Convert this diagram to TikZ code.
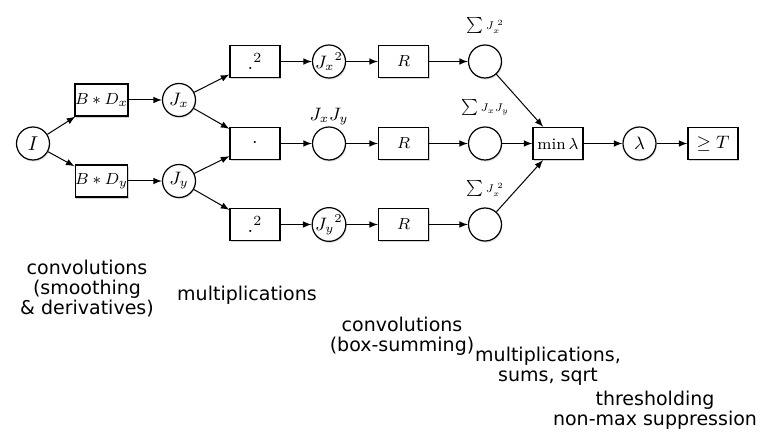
\documentclass[tikz,border=0pt]{standalone}
\usepackage{amsmath}
\usepackage{amssymb}
\usepackage{fontspec}
\newfontfamily\notefont{DejaVu Sans}
\usepackage{tikz}
\usetikzlibrary{arrows}
\usetikzlibrary{positioning}
\usetikzlibrary{shadows}
\tikzstyle{arrow} = [line width=0.5pt,-latex]
\tikzstyle{opbox} = [draw, line width=0.6pt, fill=white, minimum width=25pt, minimum height=16pt, inner sep=0pt, drop shadow={shadow xshift=0.5pt, shadow yshift=-1pt, opacity=0.35}]
\tikzstyle{val} = [draw, circle, line width=0.6pt, fill=white, minimum size=16.5pt, inner sep=0pt, drop shadow={shadow xshift=0.4pt, shadow yshift=-0.8pt, opacity=0.25}]
\tikzstyle{sumlabel} = [inner sep=0pt, label distance=5pt]
\newcommand{\sumof}[1]{\scalebox{0.8}{$\sum{\scriptstyle #1}$}}
\tikzstyle{note} = [align=center, inner sep=0pt, font=\notefont\fontsize{9.5}{10}\selectfont]

\begin{document}
\begin{tikzpicture}[x=0.5pt, y=-0.5pt, on grid]
			\useasboundingbox (0,0) rectangle (769,432);
			
				% Input image
				\node[val] (I) at (33,143.5) {$I$};
				
				% Smoothed derivatives
				\node[opbox, font=\footnotesize, above right = 21.75pt and 34.25pt of I] (bdx) {$B*D_x$};
				\node[opbox, font=\footnotesize, below right = 18.75pt and 34.25pt of I] (bdy) {$B*D_y$};
				\node[val, font=\small, right = 38.75pt of bdx] (jx) {$J_x$};
				\node[val, font=\small, right = 38.75pt of bdy] (jy) {$J_y$};
				
				% Products
				\node[opbox, right = 111pt of I] (prod) {$\cdot$};
				\node[opbox, above = 41pt of prod] (sqx) {$.^2$};
				\node[opbox, below = 40.5pt of prod] (sqy) {$.^2$};
				\node[val, font=\small, right = 37pt of sqx] (jxx) {${J_x}^2$};
				\node[val, right = 37pt of prod, label={[font=\small, inner sep=0pt, label distance=0.5pt]above:$J_xJ_y$}] (jxy) {};
				\node[val, font=\small, right = 37pt of sqy] (jyy) {${J_y}^2$};
				
				% Box sums
				\node[opbox, font=\footnotesize, right = 37.25pt of jxx] (rx) {$R$};
				\node[opbox, font=\footnotesize, right = 37.25pt of jxy] (rxy) {$R$};
				\node[opbox, font=\footnotesize, right = 37.25pt of jyy] (ry) {$R$};
				\node[val, right = 40.75pt of rx, label={[sumlabel]above:\sumof{J_x^{\;2}}}] (sx) {};
				\node[val, right = 40.75pt of rxy, label={[sumlabel]above:\sumof{J_xJ_y}}] (sxy) {};
				\node[val, right = 40.75pt of ry, label={[sumlabel]above:\sumof{J_x^{\;2}}}] (sy) {};
				
				% Eigenvalue and threshold
				\node[opbox, font=\footnotesize, right = 36.5pt of sxy] (minl) {$\min\lambda$};
				\node[val, font=\small, right = 40.75pt of minl] (lam) {$\lambda$};
				\node[opbox, font=\small, right = 36.75pt of lam] (thr) {$\geq T$};
				
				% Arrows
				\draw[arrow] (I) -- (bdx);
				\draw[arrow] (I) -- (bdy);
				\draw[arrow] (bdx) -- (jx);
				\draw[arrow] (bdy) -- (jy);
				\draw[arrow] (jx) -- (sqx);
				\draw[arrow] (jx) -- (prod);
				\draw[arrow] (jy) -- (prod);
				\draw[arrow] (jy) -- (sqy);
				\draw[arrow] (sqx) -- (jxx);
				\draw[arrow] (prod) -- (jxy);
				\draw[arrow] (sqy) -- (jyy);
				\draw[arrow] (jxx) -- (rx);
				\draw[arrow] (jxy) -- (rxy);
				\draw[arrow] (jyy) -- (ry);
				\draw[arrow] (rx) -- (sx);
				\draw[arrow] (rxy) -- (sxy);
				\draw[arrow] (ry) -- (sy);
				\draw[arrow] (sx) -- (minl);
				\draw[arrow] (sxy) -- (minl);
				\draw[arrow] (sy) -- (minl);
				\draw[arrow] (minl) -- (lam);
				\draw[arrow] (lam) -- (thr);
				
				% Stage notes
				\node[note] (nconv) at (87,289) {convolutions\\(smoothing\\\& derivatives)};
				\node[note] (nmult) at (247,295) {multiplications};
				\node[note] (nbox) at (402,336) {convolutions\\(box-summing)};
				\node[note] (nsums) at (548,366) {multiplications,\\sums, sqrt};
				\node[note] (nthr) at (655,410) {thresholding\\non-max suppression};
							
			\end{tikzpicture}
\end{document}
